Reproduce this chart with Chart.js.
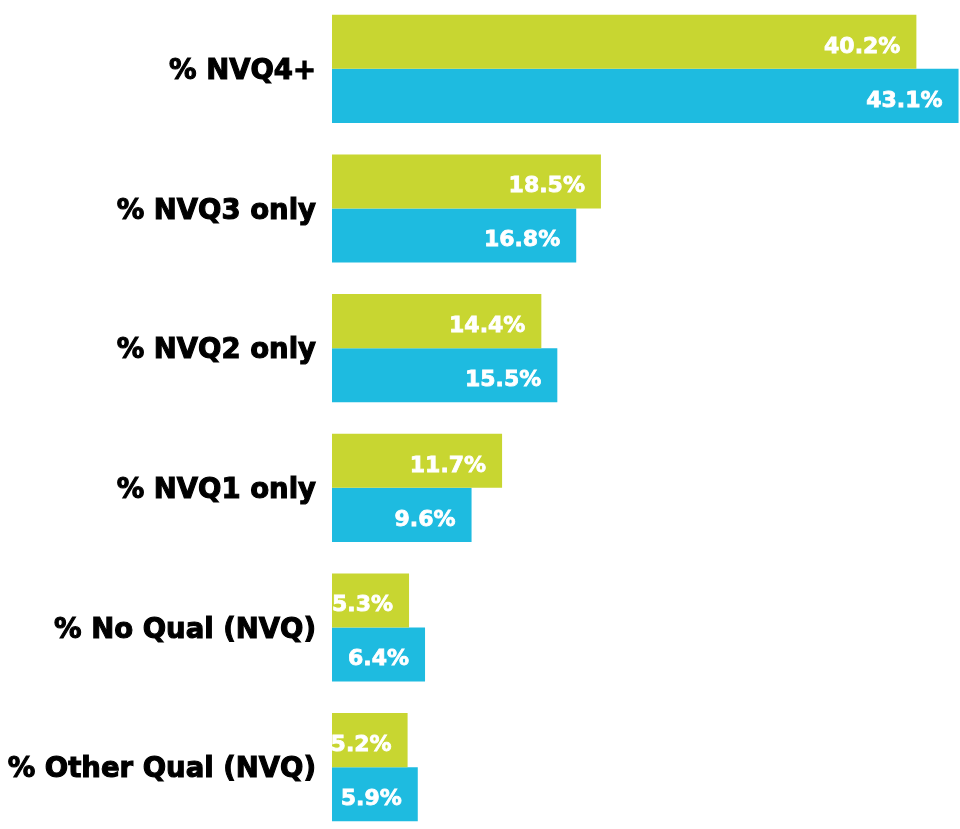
<!DOCTYPE html>
<html>
<head>
<meta charset="utf-8">
<script src="https://cdn.jsdelivr.net/npm/chart.js@4/dist/chart.umd.min.js"></script>
<style>
  html, body { margin:0; padding:0; background:#fff; overflow:hidden; }
  #wrap { position:absolute; left:0; top:-1px; width:960px; height:838px; }
</style>
</head>
<body>
<div id="wrap"><canvas id="quals"></canvas></div>
<script>
const categories = ['% NVQ4+', '% NVQ3 only', '% NVQ2 only', '% NVQ1 only', '% No Qual (NVQ)', '% Other Qual (NVQ)'];
const seriesA = [40.2, 18.5, 14.4, 11.7, 5.3, 5.2];
const seriesB = [43.1, 16.8, 15.5, 9.6, 6.4, 5.9];

const GREEN = '#c8d631';
const BLUE = '#1ebbe0';

// white value text sitting inside the end of each bar
const barValues = {
  id: 'barValues',
  afterDatasetsDraw(chart){
    const ctx = chart.ctx;
    ctx.save();
    ctx.font = 'bold 22px "DejaVu Sans"';
    ctx.fillStyle = '#fff';
    ctx.strokeStyle = '#fff';
    ctx.lineWidth = 0.8;
    ctx.textAlign = 'right';
    ctx.textBaseline = 'middle';
    chart.data.datasets.forEach((ds, i)=>{
      chart.getDatasetMeta(i).data.forEach((bar, j)=>{
        const txt = ds.data[j].toFixed(1) + '%';
        ctx.fillText(txt, bar.x - 16, bar.y + 5);
        ctx.strokeText(txt, bar.x - 16, bar.y + 5);
      });
    });
    ctx.restore();
  }
};

new Chart(document.getElementById('quals'), {
  type: 'bar',
  data: {
    labels: categories,
    datasets: [
      { label: 'A', data: seriesA, backgroundColor: GREEN },
      { label: 'B', data: seriesB, backgroundColor: BLUE }
    ]
  },
  options: {
    indexAxis: 'y',
    responsive: true,
    maintainAspectRatio: false,
    animation: false,
    layout: { padding: 0 },
    datasets: { bar: { categoryPercentage: 0.774, barPercentage: 1.0 } },
    plugins: { legend: { display:false }, tooltip: { enabled:false } },
    scales: {
      x: { display:false, min:0, max:43.2 },
      y: {
        grid: { display:false },
        border: { display:false },
        afterFit(scale){
          scale.width = 332;
          // bands run the full height, no room reserved for label overhang
          scale.paddingTop = 0;
          scale.paddingBottom = 0;
        },
        ticks: {
          color: '#000',
          textStrokeColor: '#000',
          textStrokeWidth: 1.1,
          padding: 8,
          labelOffset: 3,
          font: { family: '"DejaVu Sans"', weight: 'bold', size: 27.5 }
        }
      }
    }
  },
  plugins: [barValues]
});
</script>
</body>
</html>
